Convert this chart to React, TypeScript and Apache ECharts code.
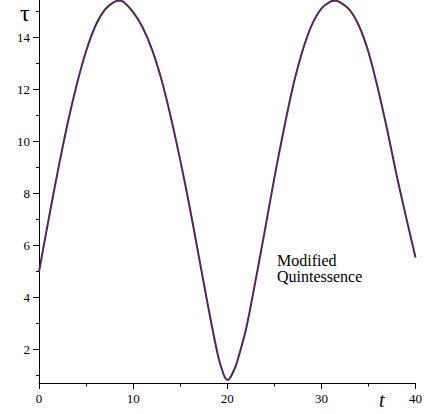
import React, { useEffect, useRef } from "react";
import * as echarts from "echarts";

const tValues = [0, 1, 2, 3, 4, 5, 6, 7, 8, 8.6, 9, 10, 11, 12, 13, 14, 15, 16, 17, 18, 19, 19.5, 19.8, 20.1, 20.4, 20.7, 21, 22, 23, 24, 25, 26, 27, 28, 29, 30, 31, 31.4, 32, 33, 34, 35, 36, 37, 38, 39, 40];
const tauValues = [5.0, 6.97, 8.87, 10.63, 12.18, 13.48, 14.46, 15.08, 15.38, 15.42, 15.37, 14.98, 14.4, 13.55, 12.4, 10.95, 9.3, 7.5, 5.55, 3.6, 1.8, 1.17, 0.9, 0.84, 0.98, 1.2, 1.48, 2.8, 4.65, 6.6, 8.6, 10.45, 12.15, 13.5, 14.5, 15.12, 15.4, 15.42, 15.36, 15.07, 14.45, 13.45, 12.05, 10.45, 8.7, 7.1, 5.55];
const yMajorTicks = [2, 4, 6, 8, 10, 12, 14];
const yMinorTicks = [1, 3, 5, 7, 9, 11, 13, 15];
const curveLabel = "Modified\nQuintessence";

const SERIF = "Liberation Serif";

export default function App() {
  const ref = useRef<HTMLDivElement>(null);
  useEffect(() => {
    document.body.style.margin = "0";
    const chart = echarts.init(ref.current!, null, { renderer: "svg" });
    const yMin = 0.72;
    const yMax = 15.45;
    chart.setOption({
      animation: false,
      backgroundColor: "#ffffff",
      textStyle: { fontFamily: SERIF },
      grid: { left: 39, right: 9.5, top: 0, bottom: 31, containLabel: false },
      xAxis: {
        type: "value",
        min: 0,
        max: 40,
        interval: 10,
        axisLine: { show: true, lineStyle: { color: "#000", width: 1 } },
        axisTick: { show: true, length: 6, inside: false, lineStyle: { color: "#000" } },
        minorTick: { show: true, splitNumber: 2, length: 3.5, lineStyle: { color: "#000" } },
        splitLine: { show: false },
        axisLabel: { color: "#000", fontFamily: SERIF, fontSize: 13, margin: 9 },
      },
      yAxis: [
        {
          type: "value",
          min: yMin,
          max: yMax,
          axisLine: { show: true, onZero: false, lineStyle: { color: "#000", width: 1 } },
          axisTick: { show: true, length: 6, customValues: yMajorTicks, lineStyle: { color: "#000" } },
          axisLabel: { color: "#000", fontFamily: SERIF, fontSize: 13, margin: 9, customValues: yMajorTicks },
          splitLine: { show: false },
        },
        {
          type: "value",
          min: yMin,
          max: yMax,
          position: "left",
          axisLine: { show: false },
          axisTick: { show: true, length: 3, customValues: yMinorTicks, lineStyle: { color: "#000" } },
          axisLabel: { show: false },
          splitLine: { show: false },
        },
      ],
      series: [
        {
          type: "line",
          data: tValues.map((t, i) => [t, tauValues[i]]),
          smooth: 0.3,
          showSymbol: false,
          symbol: "none",
          clip: true,
          lineStyle: { color: "#4b2a4f", width: 2 },
        },
      ],
      graphic: [
        { type: "text", left: 20, top: 1, style: { text: "τ", font: "24px Liberation Serif", fill: "#000" } },
        { type: "text", left: 379, top: 390, style: { text: "t", font: "italic 20px Liberation Serif", fill: "#000" } },
        { type: "text", left: 277, top: 252, style: { text: curveLabel, font: "16px Liberation Serif", lineHeight: 16, fill: "#000" } },
      ],
    });
    return () => chart.dispose();
  }, []);
  return <div ref={ref} style={{ position: "absolute", left: 0, top: 0, width: 425, height: 414 }} />;
}
